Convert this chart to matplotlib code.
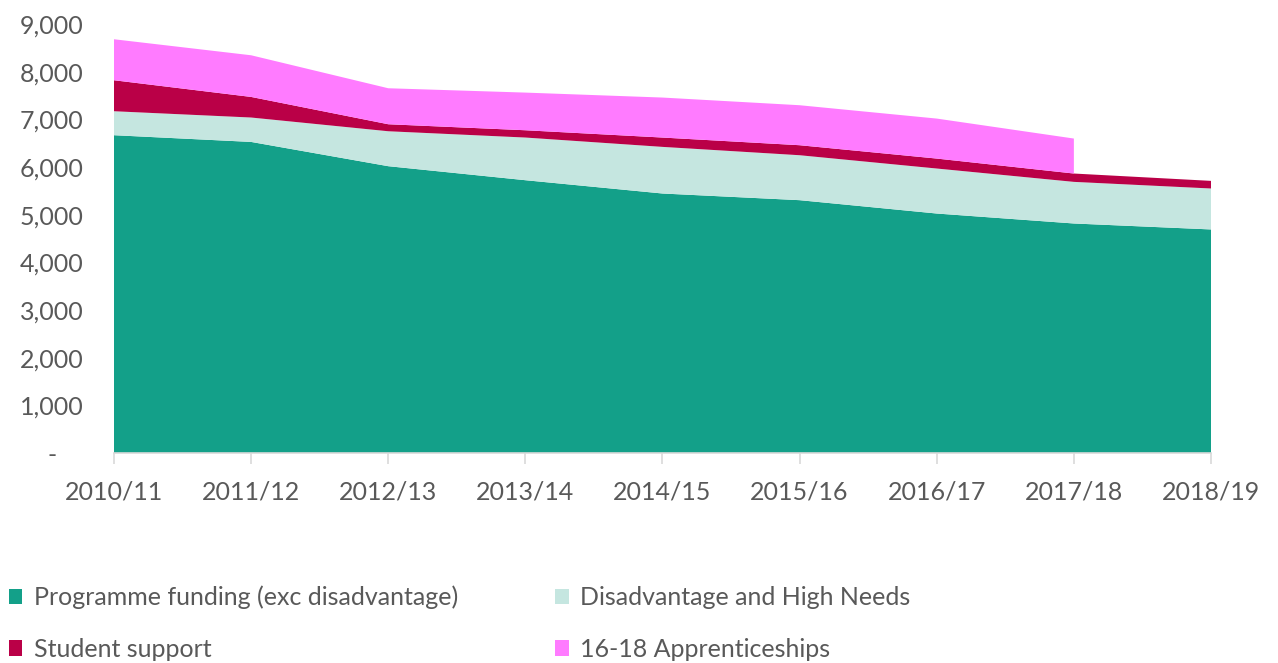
import numpy as np
import matplotlib
matplotlib.use("Agg")
import matplotlib.pyplot as plt
from matplotlib.patches import Patch
from matplotlib.ticker import FuncFormatter
import matplotlib.transforms as mtransforms

plt.rcParams['font.family'] = ['Lato', 'DejaVu Sans']

years = ["2010/11", "2011/12", "2012/13", "2013/14", "2014/15",
         "2015/16", "2016/17", "2017/18", "2018/19"]
programme = [6667, 6526, 6017, 5723, 5444, 5304, 5024, 4815, 4690]
disadvantage = [503, 512, 733, 895, 978, 943, 944, 873, 859]
student_support = [650, 432, 147, 153, 196, 210, 209, 175, 160]
apprenticeships = [860, 874, 755, 790, 839, 839, 839, 734, np.nan]

labels = ["Programme funding (exc disadvantage)", "Disadvantage and High Needs",
          "Student support", "16-18 Apprenticeships"]
colors = ["#13A089", "#C5E6E0", "#BA0047", "#FF7BFF"]

fig = plt.figure(figsize=(12.78, 6.63), dpi=100)
ax = fig.add_axes([114/1278, (663-453)/663, (1211-114)/1278, (453-24)/663])

x = np.arange(len(years))
ax.stackplot(x, programme, disadvantage, student_support, apprenticeships,
             colors=colors, linewidth=0)

ax.set_xlim(0, len(years)-1)
ax.set_ylim(0, 9000)
ax.set_yticks(np.arange(0, 9001, 1000))
ax.yaxis.set_major_formatter(FuncFormatter(lambda v, p: "-" if v == 0 else f"{int(v):,}"))
ax.set_xticks(x)
ax.set_xticklabels(years)

grey = "#595959"
fs = 18
for s in ["top", "right", "left"]:
    ax.spines[s].set_visible(False)
ax.spines["bottom"].set_color("#D9D9D9")
ax.spines["bottom"].set_linewidth(1.2)
ax.tick_params(axis="y", length=0, pad=22, labelsize=fs, labelcolor=grey)
ax.tick_params(axis="x", length=8, width=1.2, color="#D9D9D9", pad=12,
               labelsize=fs, labelcolor=grey, direction="out")

# shift the zero "-" label left (accounting format)
fig.canvas.draw()
lbl0 = ax.get_yticklabels()[0]
lbl0.set_transform(lbl0.get_transform() + mtransforms.ScaledTranslation(-27/100, 0, fig.dpi_scale_trans))

# legend filled column-major: reorder so rows read prog/dis, student/appr
order = [0, 2, 1, 3]
handles = [Patch(facecolor=colors[i], edgecolor="none") for i in order]
leg = fig.legend(handles, [labels[i] for i in order], ncol=2, loc="upper left",
                 bbox_to_anchor=(-0.001, 0.132), frameon=False,
                 fontsize=fs, labelcolor=grey,
                 handlelength=0.55, handleheight=0.55, handletextpad=0.45,
                 columnspacing=3.9, labelspacing=1.15, borderaxespad=0)

fig.savefig("out.png", dpi=100)
